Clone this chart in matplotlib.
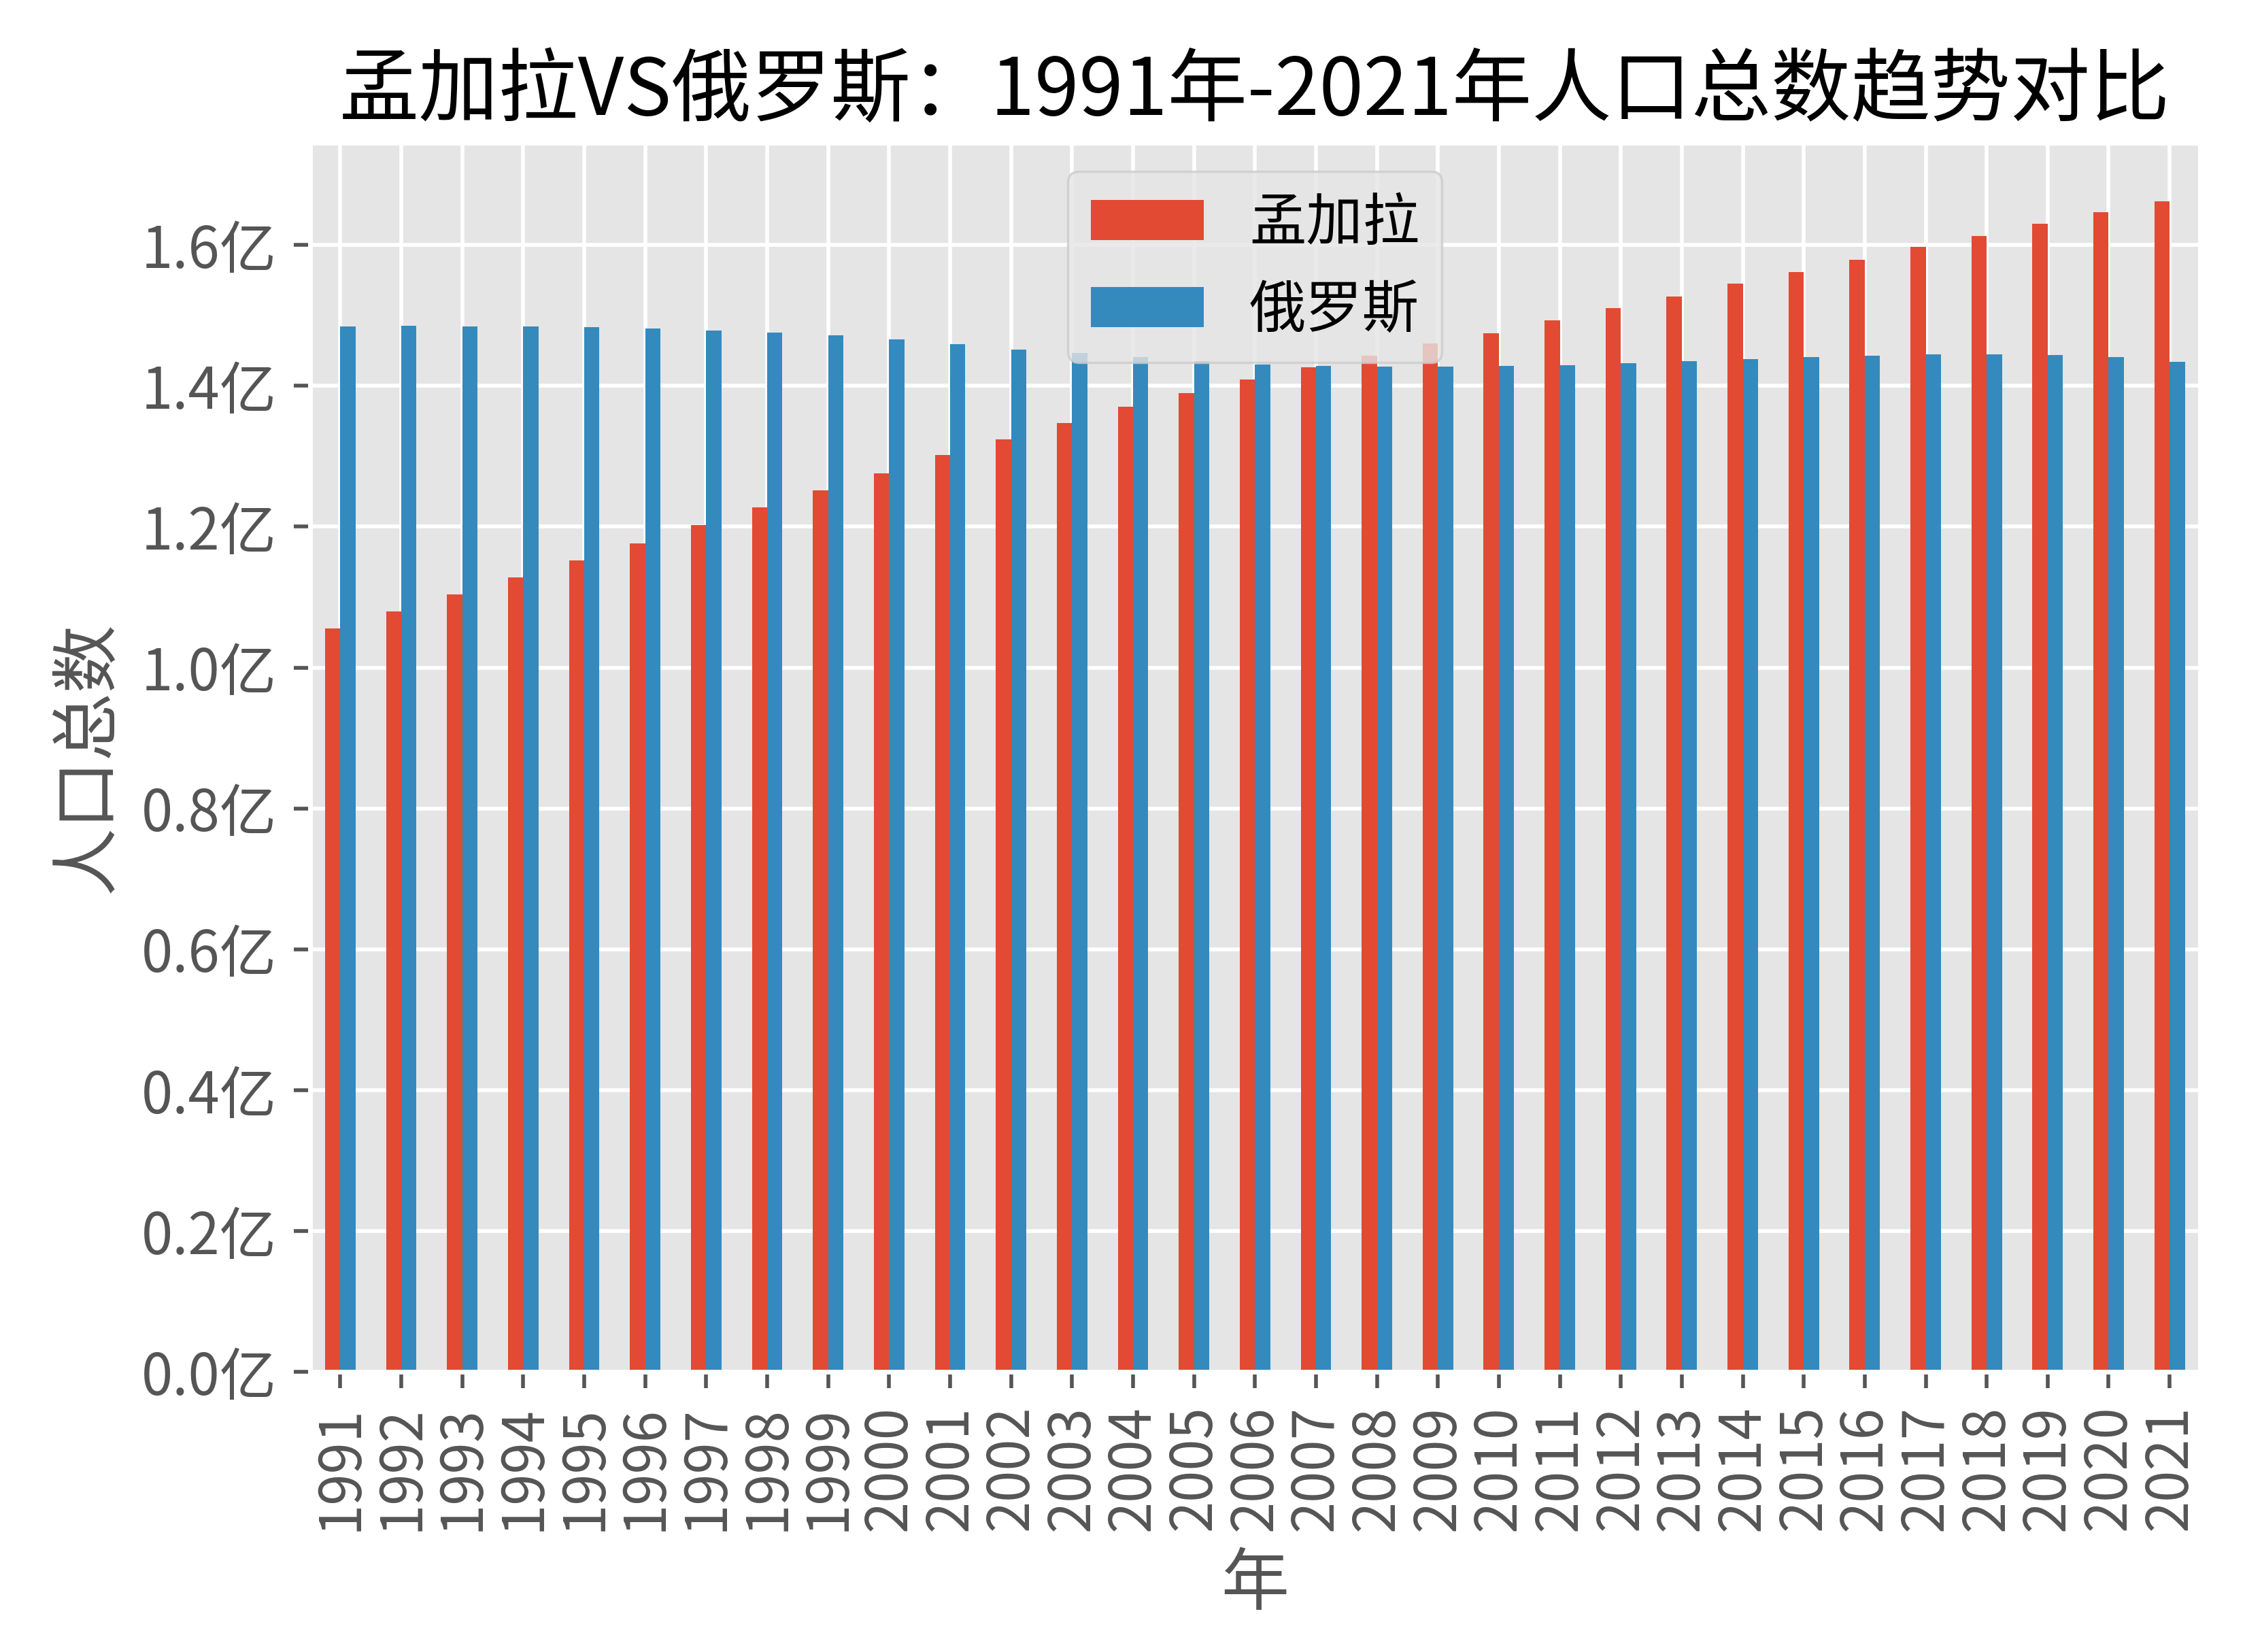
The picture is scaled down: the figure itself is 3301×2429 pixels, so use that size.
import numpy as np
import pandas as pd
import matplotlib
matplotlib.use('Agg')
import matplotlib.pyplot as plt
from matplotlib.ticker import FuncFormatter

# 数据（单位：亿）
years = list(range(1991, 2022))
bangladesh = [1.056, 1.080, 1.104, 1.128, 1.152, 1.176, 1.202, 1.227, 1.252, 1.276,
              1.302, 1.324, 1.347, 1.370, 1.390, 1.409, 1.426, 1.443, 1.460, 1.475,
              1.493, 1.510, 1.527, 1.545, 1.562, 1.579, 1.597, 1.613, 1.630, 1.647,
              1.662]
russia = [1.484, 1.485, 1.484, 1.484, 1.483, 1.481, 1.479, 1.476, 1.472, 1.466,
          1.459, 1.452, 1.447, 1.441, 1.435, 1.430, 1.428, 1.427, 1.427, 1.428,
          1.429, 1.432, 1.435, 1.438, 1.441, 1.443, 1.445, 1.445, 1.444, 1.441,
          1.434]

plt.style.use('ggplot')
plt.rcParams['font.family'] = ['Noto Sans CJK SC', 'DejaVu Sans']
plt.rcParams['font.size'] = 12
plt.rcParams['axes.unicode_minus'] = False

df = pd.DataFrame({'孟加拉': bangladesh, '俄罗斯': russia}, index=years)

fig, ax = plt.subplots(figsize=(6.602, 4.858), dpi=500)
fig.subplots_adjust(left=0.138, right=0.980, top=0.9135, bottom=0.1696)
df.plot(kind='bar', ax=ax)

ax.yaxis.set_major_formatter(FuncFormatter(lambda v, p: '{:.1f}亿'.format(v)))
ax.set_ylim(0, 1.745)
ax.set_title('孟加拉VS俄罗斯：1991年-2021年人口总数趋势对比', fontsize=16.9)
ax.set_xlabel('年')
ax.set_ylabel('人口总数')
ax.legend(loc='upper center', fontsize=12)

plt.savefig('out.png', dpi=500)
